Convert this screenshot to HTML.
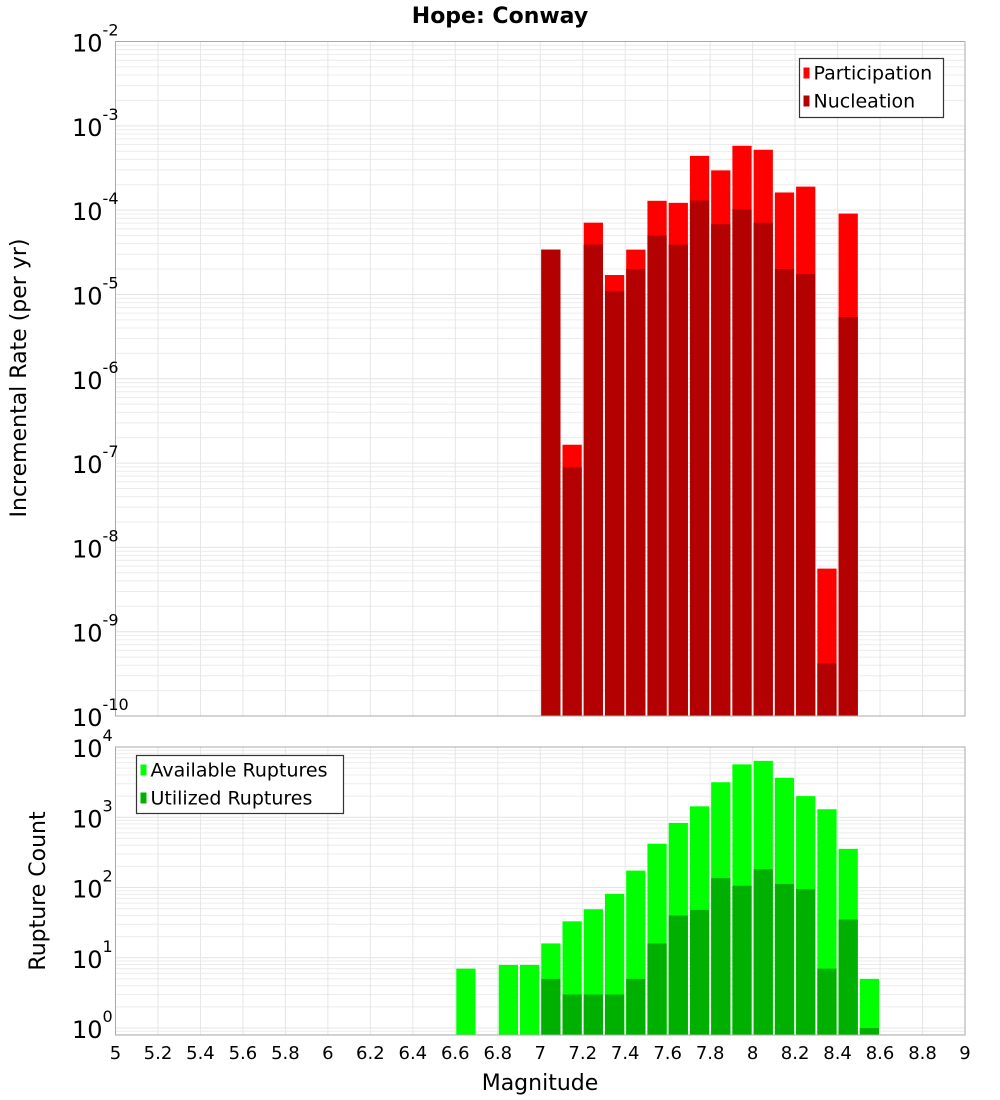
<!DOCTYPE html>
<html><head><meta charset="utf-8"><style>
body{margin:0;background:#fff;}
svg{display:block;font-family:"DejaVu Sans","Liberation Sans",sans-serif;}
</style></head><body>
<svg id="c" width="1000" height="1100" xmlns="http://www.w3.org/2000/svg"></svg>
<script>
const magBins=[7.05,7.15,7.25,7.35,7.45,7.55,7.65,7.75,7.85,7.95,8.05,8.15,8.25,8.35,8.45];
const participation=[3.4e-5,1.65e-7,7.1e-5,1.7e-5,3.4e-5,1.29e-4,1.22e-4,4.4e-4,2.96e-4,5.8e-4,5.2e-4,1.62e-4,1.9e-4,5.6e-9,9.1e-5];
const nucleation=[3.4e-5,8.9e-8,3.9e-5,1.1e-5,2.0e-5,5.0e-5,3.9e-5,1.3e-4,6.8e-5,1.02e-4,7.1e-5,2.0e-5,1.74e-5,4.2e-10,5.4e-6];
const countBins=[6.65,6.85,6.95,7.05,7.15,7.25,7.35,7.45,7.55,7.65,7.75,7.85,7.95,8.05,8.15,8.25,8.35,8.45,8.55];
const available=[7.0,7.9,7.9,16,33,49,81,174,420,830,1430,3150,5660,6350,3640,2000,1300,355,5];
const utilized=[0,0,0,5,3,3,3,5,16,40,48,136,106,182,112,95,7,35,1];
const xTicks=["5","5.2","5.4","5.6","5.8","6","6.2","6.4","6.6","6.8","7","7.2","7.4","7.6","7.8","8","8.2","8.4","8.6","8.8","9"];

const NS="http://www.w3.org/2000/svg";
const svg=document.getElementById('c');
function el(t,a,p){const e=document.createElementNS(NS,t);for(const k in a)e.setAttribute(k,a[k]);(p||svg).appendChild(e);return e;}
const L=115.5,R=965;
const x=v=>L+(v-5)/4*(R-L);
const T1=41.5,B1=716,lo1=-10,hi1=-2;
const y1=v=>T1+(hi1-Math.log10(v))/(hi1-lo1)*(B1-T1);
const T2=747,B2=1035,perDec=70.25;
const y2=v=>T2+(4-Math.log10(v))*perDec;

function panel(T,B,ylo,yhi,yf,name){
  const g=el('g',{});
  
  
  for(let d=ylo;d<yhi;d++){for(let m=1;m<10;m++){const v=m*Math.pow(10,d);const yy=yf(v);if(yy<T||yy>B)continue;
    el('line',{x1:L,x2:R,y1:yy,y2:yy,stroke:m==1?'#e4e4e4':'#ececec','stroke-width':1},g);}}
  xTicks.forEach(t=>{const xx=x(+t);el('line',{x1:xx,x2:xx,y1:T,y2:B,stroke:'#e6e6e6','stroke-width':1},g);});
}
panel(T1,B1,-10,-2,y1,'top');
panel(T2,B2,-1,4,y2,'bottom');

magBins.forEach((m,i)=>{
  const x0=x(m-0.05)+1,w=x(m+0.05)-x(m-0.05)-2;
  let yy=Math.max(T1,y1(participation[i]));
  const r=el('rect',{x:x0,y:yy,width:w,height:B1-yy,fill:'#ff0000'});
  
  
  yy=Math.max(T1,y1(nucleation[i]));
  const r2=el('rect',{x:x0,y:yy,width:w,height:B1-yy,fill:'#b30000'});
  
  
});
countBins.forEach((m,i)=>{
  const x0=x(m-0.05)+1,w=x(m+0.05)-x(m-0.05)-2;
  if(available[i]>0){const yy=Math.max(T2,y2(available[i]));
  const r=el('rect',{x:x0,y:yy,width:w,height:B2-yy,fill:'#00ff00'});
  
  }
  if(utilized[i]>0){const yy=Math.max(T2,y2(utilized[i]));
  const r2=el('rect',{x:x0,y:yy,width:w,height:B2-yy,fill:'#00b000'});
  
  }
});
el('rect',{x:L,y:T1,width:R-L,height:B1-T1,fill:'none',stroke:'#aaa','stroke-width':1});
el('rect',{x:L,y:T2,width:R-L,height:B2-T2,fill:'none',stroke:'#aaa','stroke-width':1});

function powLabel(yy,exp,name){
  const t=el('text',{x:72,y:yy+10,'font-size':24,fill:'#000'});
  
  
  const a=el('tspan',{},t);a.textContent='10';
  const b=el('tspan',{dy:-16,'font-size':16},t);b.textContent=exp;
}
for(let d=-2;d>=-10;d--)powLabel(y1(Math.pow(10,d)),String(d),'y-tick-top');
for(let d=4;d>=0;d--)powLabel(y2(Math.pow(10,d)),String(d),'y-tick-bottom');

xTicks.forEach(t=>{const tx=el('text',{x:x(+t),y:1059,'text-anchor':'middle','font-size':18,fill:'#000'});
  tx.textContent=t;
  
  });

function txt(s,a,name){const t=el('text',a);t.textContent=s;return t;}
txt('Hope: Conway',{x:500,y:23,'text-anchor':'middle','font-size':22,'font-weight':'bold'},'chart-title');
txt('Magnitude',{x:540,y:1090,'text-anchor':'middle','font-size':22},'x-axis-title');
txt('Incremental Rate (per yr)',{x:0,y:0,'text-anchor':'middle','font-size':22,transform:'translate(26,378) rotate(-90)'},'y-axis-title-top');
txt('Rupture Count',{x:0,y:0,'text-anchor':'middle','font-size':22,transform:'translate(45,891) rotate(-90)'},'y-axis-title-bottom');

function legend(x0,y0,w,h,items,name){
  const g=el('g',{});
  el('rect',{x:x0,y:y0,width:w,height:h,fill:'#fff',stroke:'#333','stroke-width':1.2},g);
  items.forEach((it,i)=>{const cy=y0+14+i*28;
    el('rect',{x:x0+4,y:cy-5,width:6,height:11,fill:it[1]},g);
    const t=el('text',{x:x0+14,y:cy+7,'font-size':19},g);t.textContent=it[0];});
}
legend(799.5,58.5,144,59,[['Participation','#ff0000'],['Nucleation','#b30000']],'legend-top');
legend(136.5,755.5,207,58,[['Available Ruptures','#00ff00'],['Utilized Ruptures','#00b000']],'legend-bottom');
</script>
</body></html>
